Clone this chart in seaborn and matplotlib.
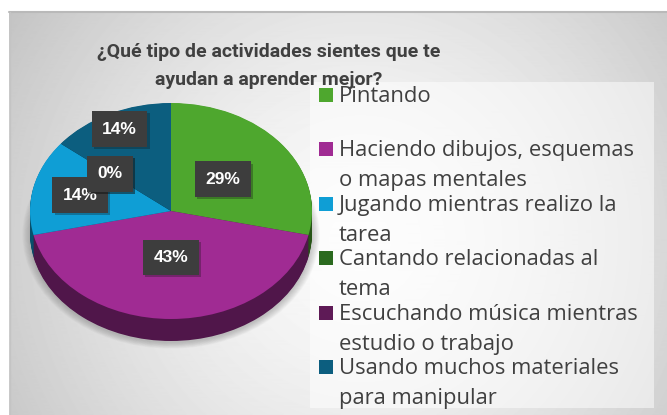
import numpy as np
import matplotlib
matplotlib.use("Agg")
import matplotlib.pyplot as plt
import matplotlib.patheffects as pe
from matplotlib.colors import to_rgb
from matplotlib.patches import Ellipse, Rectangle
import seaborn as sns

sns.set_theme(style="white")

title = "¿Qué tipo de actividades sientes que te\nayudan a aprender mejor?"
categories = [
    "Pintando",
    "Haciendo dibujos, esquemas\no mapas mentales",
    "Jugando mientras realizo la\ntarea",
    "Cantando relacionadas al\ntema",
    "Escuchando música mientras\nestudio o trabajo",
    "Usando muchos materiales\npara manipular",
]
responses = [2, 3, 1, 0, 0, 1]
colors = ["#4EA72E", "#A02B93", "#0F9ED5", "#2B6A1F", "#5E1A56", "#0C5E7F"]

# label distance from the centre, per slice (as fraction of radius)
label_r = [0.47, 0.43, 0.66, 0.55, 0.55, 0.84]

W, H = 667, 415
CX, CY, RX, RY = 171, 211, 141, 108   # pie ellipse in pixels
DEPTH = 22 / RY

fig = plt.figure(figsize=(W / 100, H / 100), dpi=100)
fig.patch.set_facecolor("white")

# background: radial gradient chart area
bg = fig.add_axes([0, 0, 1, 1])
bg.set_xlim(0, W)
bg.set_ylim(H, 0)
bg.axis("off")
yy, xx = np.mgrid[12:H, 9:W]
dist = np.hypot(xx - 360, yy - 240) / 420
shade = 0.985 - 0.22 * dist ** 1.5
bg.imshow(shade, cmap="gray", vmin=0, vmax=1, extent=(9, W, H, 12),
          aspect="auto", zorder=0)
bg.plot([9, W], [12.5, 12.5], color="#b9b9b9", lw=1.5, zorder=1)
bg.plot([9.5, 9.5], [12, H], color="#c4c4c4", lw=1, zorder=1)
bg.add_patch(Rectangle((310, 82), 344, 326, facecolor="white", alpha=0.5,
                       edgecolor="none", zorder=1))

# pie, squashed into an ellipse, with a dark side for depth
ax = fig.add_axes([0, 0, 1, 1])
ax.patch.set_alpha(0)
for k in range(10):
    ax.add_patch(Ellipse((0.0, -0.22), 2.0 + 0.012 * k, 2.0 + 0.012 * k,
                         facecolor="#555555", alpha=0.035, edgecolor="none"))
side_colors = [tuple(c * 0.5 for c in to_rgb(col)) for col in colors]
for d in np.linspace(DEPTH, 0.005, 25):
    ax.pie(responses, colors=side_colors, startangle=90, counterclock=False,
           center=(0, -d), radius=1, wedgeprops=dict(linewidth=0))
wedges, _ = ax.pie(responses, colors=colors, startangle=90, counterclock=False,
                   center=(0, 0), radius=1, wedgeprops=dict(linewidth=0))

total = sum(responses)
for w, v, r in zip(wedges, responses, label_r):
    mid = np.deg2rad((w.theta1 + w.theta2) / 2)
    t = ax.text(r * np.cos(mid), r * np.sin(mid), f"{v / total * 100:.0f}%",
                ha="center", va="center", color="white", fontsize=12.5,
                fontweight="bold", family=["Liberation Sans", "DejaVu Sans"],
                bbox=dict(boxstyle="square,pad=0.6", fc="#3d3d3d", ec="none"))
    t.get_bbox_patch().set_path_effects(
        [pe.SimplePatchShadow(offset=(1.5, -1.5), alpha=0.3), pe.Normal()])

ax.set_aspect("auto")
ax.set_xlim(-CX / RX, (W - CX) / RX)
ax.set_ylim(-(H - CY) / RY, CY / RY)
ax.axis("off")

# title and legend in pixel coordinates
top = fig.add_axes([0, 0, 1, 1])
top.patch.set_alpha(0)
top.set_xlim(0, W)
top.set_ylim(H, 0)
top.axis("off")
for i, line in enumerate(title.split("\n")):
    top.text(269, 57 + 28 * i, line, ha="center", va="baseline", fontsize=14,
             fontweight="bold", color="#404040", family=["Roboto", "DejaVu Sans"])

for i, (lab, col) in enumerate(zip(categories, colors)):
    base = 102 + 54.4 * i
    top.add_patch(Rectangle((319, base - 14), 14, 14, facecolor=col,
                            edgecolor="none"))
    for j, line in enumerate(lab.split("\n")):
        top.text(339, base + 30 * j, line, ha="left", va="baseline",
                 fontsize=15.8, color="#404040",
                 family=["Open Sans", "DejaVu Sans"])

fig.savefig("out.png", dpi=100)
